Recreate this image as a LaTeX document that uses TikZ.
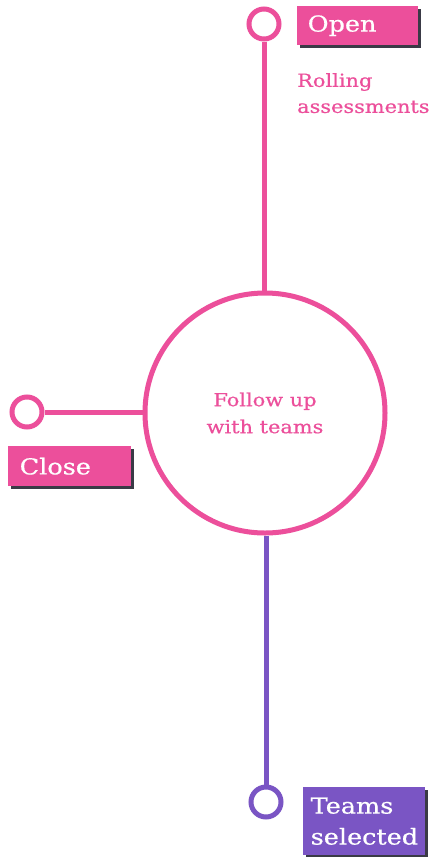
\documentclass[tikz,border=0pt]{standalone}
\usepackage{fontspec}
\setmainfont{DejaVu Serif}[FakeStretch=1.16,FakeBold=0.6]
\usetikzlibrary{shadows}
\definecolor{tlpink}{HTML}{EC4F9B}
\definecolor{tlpurple}{HTML}{7A55C4}
\definecolor{tlshadow}{HTML}{3A3A46}

\tikzset{
  ring/.style={circle,draw=#1,line width=5pt,fill=white,minimum size=30pt,inner sep=0pt},
  tag/.style={fill=#1,text=white,anchor=north west,align=left,inner sep=0pt,
    font=\fontsize{22}{31}\selectfont,
    drop shadow={shadow xshift=2.5pt,shadow yshift=-2.5pt,fill=tlshadow,opacity=1}},
  stem/.style={line width=5pt,draw=#1}
}

\begin{document}
\begin{tikzpicture}[x=1pt,y=-1pt]
  \useasboundingbox[fill=white] (0,0) rectangle (435,857);
  \node[circle,draw=tlpink,line width=5pt,minimum size=240pt,inner sep=0pt,
    text=tlpink,align=center,font=\fontsize{18}{27}\selectfont] (hub) at (265,413)
    {Follow up\\with teams};
  \node[ring=tlpink] (openring) at (264,24) {};
  \node[ring=tlpink] (closering) at (27,412) {};
  \node[ring=tlpurple] (teamring) at (266,802) {};
  \draw[stem=tlpink] (openring) -- (hub.north -| openring);
  \draw[stem=tlpink] (closering) -- (closering -| hub.west);
  \draw[stem=tlpurple] (hub.south -| teamring) -- (teamring);
  \node[tag=tlpink,minimum width=121pt,minimum height=39pt,text width=114pt] (open) at (297,6)
    {\hspace*{7pt}Open};
  \node[tag=tlpink,minimum width=123pt,minimum height=40pt,text width=116pt] (close) at (8,446)
    {\hspace*{8pt}Close};
  \node[tag=tlpurple,minimum width=122pt,minimum height=68pt,text width=117pt] (teams) at (303,787)
    {\hspace*{5pt}\mbox{Teams}\\\hspace*{5pt}\mbox{selected}};
  \node[anchor=north west,text=tlpink,align=left,inner sep=0pt,
    font=\fontsize{18}{26}\selectfont] (rolling) at (297,73)
    {Rolling\\assessments};
\end{tikzpicture}
\end{document}
